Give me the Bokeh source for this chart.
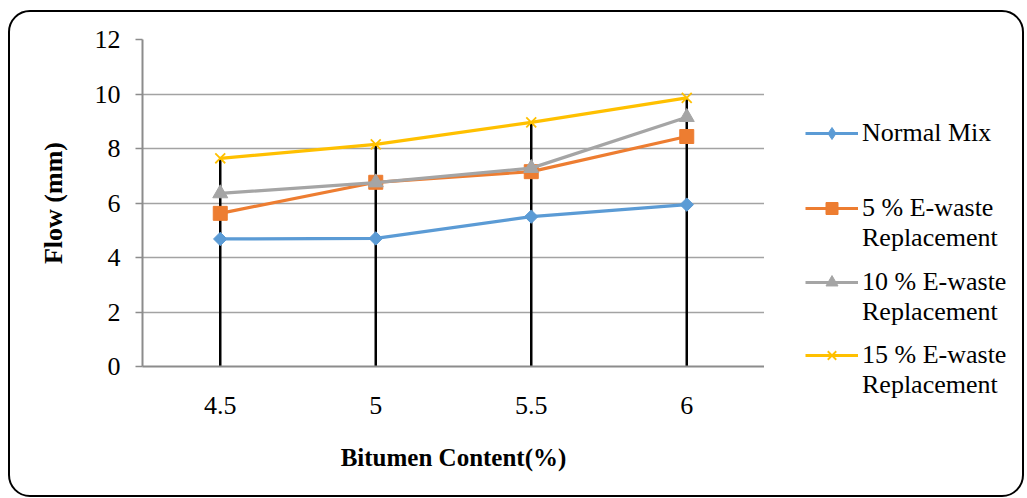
from math import pi

from bokeh.embed import file_html
from bokeh.layouts import row
from bokeh.models import (FactorRange, FixedTicker, InlineStyleSheet, Legend,
                          LegendItem, Range1d)
from bokeh.plotting import figure
from bokeh.resources import INLINE

# Flow (mm) against bitumen content for each mix
bitumen = ["4.5", "5", "5.5", "6"]
normal_mix = [4.68, 4.70, 5.50, 5.94]
ewaste_5 = [5.62, 6.76, 7.15, 8.44]
ewaste_10 = [6.35, 6.75, 7.28, 9.15]
ewaste_15 = [7.64, 8.15, 8.96, 9.86]

series_labels = ["Normal Mix", "5 % E-waste", "10 % E-waste", "15 % E-waste"]
label_tails = [None, "Replacement", "Replacement", "Replacement"]
y_ticks = [0, 2, 4, 6, 8, 10, 12]

SERIF = "Liberation Serif"
FS = "26px"
AXIS_GREY = "#8c8c8c"

p = figure(width=764, height=498, x_range=FactorRange(factors=bitumen),
           y_range=Range1d(0, 12), output_backend="svg", toolbar_location=None,
           min_border_left=142, min_border_right=0, min_border_top=39,
           min_border_bottom=132, frame_align=False,
           x_axis_label="Bitumen Content(%)", y_axis_label="Flow (mm)")
p.outline_line_color = None
p.background_fill_color = None
p.border_fill_color = "white"

p.xgrid.grid_line_color = None
p.ygrid.grid_line_color = "#a3a3a3"
p.ygrid.grid_line_width = 1.5
p.yaxis.ticker = FixedTicker(ticks=y_ticks)

for ax in (p.xaxis, p.yaxis):
    ax.axis_line_color = AXIS_GREY
    ax.axis_line_width = 2
    ax.major_label_text_font = SERIF
    ax.major_label_text_font_size = FS
    ax.major_label_text_color = "black"
    ax.minor_tick_line_color = None
    ax.axis_label_text_font = SERIF
    ax.axis_label_text_font_style = "bold"
    ax.axis_label_text_color = "black"
p.yaxis.major_tick_line_color = AXIS_GREY
p.yaxis.major_tick_line_width = 1.5
p.yaxis.major_tick_out = 7
p.yaxis.major_tick_in = 0
p.yaxis.major_label_standoff = 15
p.yaxis.axis_label_text_font_size = "26px"
p.yaxis.axis_label_standoff = 24
p.xaxis.major_tick_line_color = None
p.xaxis.major_label_standoff = 24
p.xaxis.axis_label_text_font_size = "25px"
p.xaxis.axis_label_standoff = 27

# drop lines from the axis up to the highest series
p.segment(x0=bitumen, y0=[0] * 4, x1=bitumen, y1=ewaste_15,
          line_color="black", line_width=2.5)

series = [
    (normal_mix, "#5b9bd5", dict(marker="square", size=9.5, angle=pi / 4), "diamond"),
    (ewaste_5, "#ed7d31", dict(marker="square", size=14), "square"),
    (ewaste_10, "#a5a5a5", dict(marker="triangle", size=15), "triangle"),
    (ewaste_15, "#ffc000", dict(marker="x", size=14, line_width=1.8), "x"),
]

# legend panel to the right of the chart; its y range sits above the data,
# so the series drawn there only serve as legend swatches
lp = figure(width=263, height=498, x_range=FactorRange(factors=bitumen),
            y_range=Range1d(20, 21), x_axis_type=None, y_axis_type=None,
            output_backend="svg", toolbar_location=None, min_border=0,
            frame_align=False)
lp.outline_line_color = None
lp.background_fill_color = None
lp.grid.visible = False

LEGEND_STYLE = dict(padding=0, margin=0, spacing=0, border_line_color=None,
                    background_fill_alpha=0, glyph_height=30, label_height=24,
                    label_text_font=SERIF, label_text_font_size=FS,
                    label_text_color="black")

# bottom edge of each legend line, measured up from the panel's bottom
head_bottoms = [350, 275, 201, 128]
tail_bottoms = [None, 245, 171, 98]

for (vals, color, mk, swatch), label, tail, yh, yt in zip(
        series, series_labels, label_tails, head_bottoms, tail_bottoms):
    kw = dict(mk)
    lw = kw.pop("line_width", 1)
    p.line(bitumen, vals, line_color=color, line_width=3.2)
    p.scatter(bitumen, vals, fill_color=color, line_color=color,
              line_width=lw, **kw)
    ln = lp.line(bitumen, vals, line_color=color, line_width=3.2)
    sc = lp.scatter(bitumen, vals, marker=swatch, fill_color=color,
                    line_color=color, line_width=lw)
    lp.add_layout(Legend(items=[LegendItem(label=label, renderers=[ln, sc])],
                         location=(41, yh), glyph_width=53, label_standoff=4,
                         **LEGEND_STYLE))
    if tail:
        # wrapped second line of the entry, without a swatch
        lp.add_layout(Legend(items=[LegendItem(label=tail, renderers=[ln, sc])],
                             location=(98, yt), glyph_width=0, label_standoff=0,
                             **LEGEND_STYLE))

chart = row(p, lp, spacing=0)

# rounded border drawn over the whole chart area
chart.stylesheets = [InlineStyleSheet(css="""
:host { position: relative; }
:host::after {
  content: ""; position: absolute; left: 8px; top: 10px;
  width: 1016px; height: 487px; box-sizing: border-box;
  border: 2px solid black; border-radius: 22px; pointer-events: none;
}
""")]

open("out.html", "w").write(file_html(chart, INLINE))
